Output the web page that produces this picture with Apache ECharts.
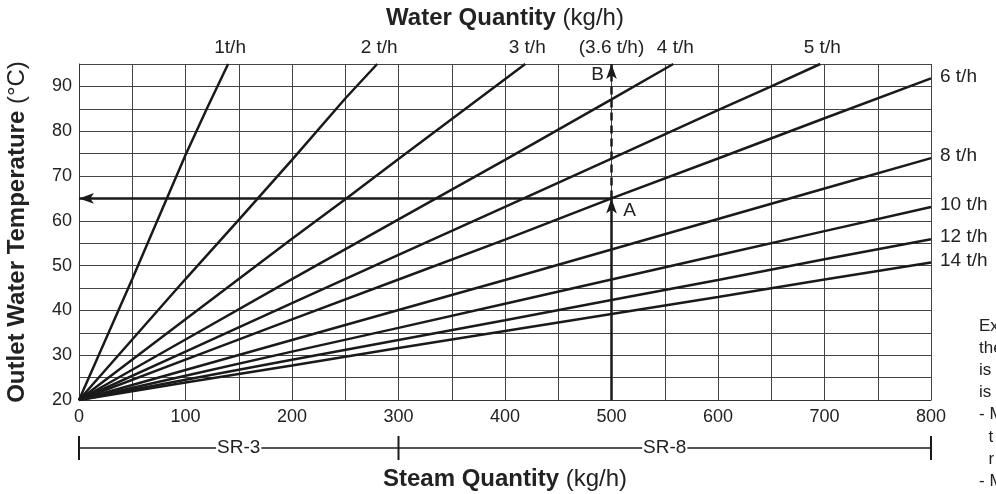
<!DOCTYPE html>
<html><head><meta charset="utf-8">
<script src="https://cdn.jsdelivr.net/npm/echarts@6/dist/echarts.min.js"></script>
<style>html,body{margin:0;padding:0;background:#fff}#c{width:996px;height:494px}</style>
</head><body><div id="c"></div>
<script>
// ---- data ----
const seriesNames = ['1t/h', '2 t/h', '3 t/h', '4 t/h', '5 t/h', '6 t/h', '8 t/h', '10 t/h', '12 t/h', '14 t/h'];
const line1t  = [[0,20],[50,47],[100,74.7],[120,85],[140,95]];
const line2t  = [[0,20],[100,47],[150,60.2],[200,73.6],[250,87.3],[280,95]];
const line3t  = [[0,20],[100,38],[200,56],[251,65],[300,73.8],[419,95]];
const line4t  = [[0,20],[100,33.5],[200,47],[300,60.3],[400,73.6],[500,87.1],[558,95]];
const line5t  = [[0,20],[100,30.8],[200,41.6],[300,52.4],[400,63.1],[500,73.9],[600,84.7],[650,90],[696,95]];
const line6t  = [[0,20],[100,29],[200,38],[300,46.9],[400,55.8],[500,65],[600,73.9],[700,82.9],[800,91.8]];
const line8t  = [[0,20],[100,26.7],[200,33.4],[300,40.1],[400,46.8],[500,53.6],[600,60.4],[700,67.2],[800,74]];
const line10t = [[0,20],[100,25.4],[200,30.8],[300,36.1],[400,41.5],[500,46.9],[600,52.3],[700,57.7],[800,63.1]];
const line12t = [[0,20],[100,24.5],[200,29],[300,33.4],[400,37.8],[500,42.3],[600,46.8],[700,51.4],[800,55.9]];
const line14t = [[0,20],[100,23.9],[200,27.7],[300,31.6],[400,35.4],[500,39.2],[600,43],[700,46.9],[800,50.7]];
const seriesData = [line1t, line2t, line3t, line4t, line5t, line6t, line8t, line10t, line12t, line14t];
const xLabelTicks = [0, 100, 200, 300, 400, 500, 600, 700, 800];
const yLabelTicks = [20, 30, 40, 50, 60, 70, 80, 90];
const examplePoint = [500, 65];   // point A
const exampleTop = [500, 95];     // point B
const exampleLabel = '(3.6 t/h)';
const modelNames = ['SR-3', 'SR-8'];
const modelBounds = [0, 300, 800];
const noteLines = ['Ex', 'the', 'is', 'is', '- M', '  t', '  r', '- M'];

const FONT = "'Liberation Sans', Arial, Helvetica, sans-serif";
const INK = '#1a1a1a';

const chart = echarts.init(document.getElementById('c'), null, {renderer: 'canvas'});

const series = seriesNames.map((n, i) => ({
  name: n, type: 'line', data: seriesData[i], symbol: 'none', showSymbol: false,
  lineStyle: {color: INK, width: 2.5}, clip: true, z: 3, silent: true
}));

series.push({
  type: 'line', data: [examplePoint], symbol: 'none', showSymbol: false,
  lineStyle: {width: 0}, silent: true, z: 4,
  markLine: {
    silent: true, animation: false, label: {show: false},
    data: [
      [{coord: examplePoint, symbol: 'none'}, {coord: [0, examplePoint[1]], symbol: 'arrow', symbolSize: [8, 15]}],
      [{coord: [examplePoint[0], 20], symbol: 'none'}, {coord: examplePoint, symbol: 'arrow', symbolSize: [8, 15]}],
      [{coord: examplePoint, symbol: 'none', lineStyle: {type: [8, 5]}}, {coord: exampleTop, symbol: 'arrow', symbolSize: [8, 15]}]
    ],
    lineStyle: {color: INK, width: 2.5, type: 'solid'}
  }
});

const option = {
  animation: false,
  backgroundColor: '#fff',
  grid: {left: 79, top: 64, width: 852, height: 336, containLabel: false, outerBoundsMode: 'none'},
  xAxis: {
    type: 'value', min: 0, max: 800, interval: 50,
    axisLine: {show: true, lineStyle: {color: '#333', width: 1}},
    axisTick: {show: false},
    splitLine: {show: true, lineStyle: {color: '#444', width: 1}},
    axisLabel: {formatter: v => xLabelTicks.includes(v) ? String(v) : '', fontSize: 18, color: '#222', margin: 8, fontFamily: FONT},
    name: '{b|Steam Quantity} (kg/h)', nameLocation: 'middle', nameGap: 67,
    nameTextStyle: {fontSize: 24, color: '#222', fontFamily: FONT,
      rich: {b: {fontSize: 24, fontWeight: 'bold', color: '#222', fontFamily: FONT}}}
  },
  yAxis: {
    type: 'value', min: 20, max: 95, interval: 5,
    axisLine: {show: true, lineStyle: {color: '#333', width: 1}},
    axisTick: {show: false},
    splitLine: {show: true, lineStyle: {color: '#444', width: 1}},
    axisLabel: {formatter: v => yLabelTicks.includes(v) ? String(v) : '', fontSize: 18, color: '#222', margin: 7, fontFamily: FONT},
    name: '{b|Outlet Water Temperature} (°C)', nameLocation: 'middle', nameGap: 50, nameRotate: 90,
    nameTextStyle: {fontSize: 24, color: '#222', fontFamily: FONT,
      rich: {b: {fontSize: 24, fontWeight: 'bold', color: '#222', fontFamily: FONT}}}
  },
  series: series
};
chart.setOption(option);

// ---- annotations positioned through the chart's own scales ----
const px = p => chart.convertToPixel({gridIndex: 0}, p);
const g = [];
const txt = (x, y, text, opt) => g.push(Object.assign({
  type: 'text', x: x, y: y, silent: true,
  style: Object.assign({text: text, fontSize: 19, fontFamily: FONT, fill: '#222', textAlign: 'center', textVerticalAlign: 'middle'}, opt || {})
}));

// top title
const cTop = px([400, 95]);
g.push({type: 'text', x: cTop[0], y: 18, silent: true,
  style: {text: '{b|Water Quantity} (kg/h)', fontSize: 24, fontFamily: FONT, fill: '#222', textAlign: 'center', textVerticalAlign: 'middle',
    rich: {b: {fontSize: 24, fontWeight: 'bold', fontFamily: FONT, fill: '#222'}}}});

// series labels
seriesData.forEach((d, i) => {
  const last = d[d.length - 1];
  const p = px(last);
  if (last[1] >= 95) {
    txt(p[0] + 2, 48, seriesNames[i]);
  } else {
    txt(p[0] + 9, p[1] - 2, seriesNames[i], {textAlign: 'left'});
  }
});
const pTop = px(exampleTop);
txt(pTop[0], 48, exampleLabel);

// A / B
const pA = px(examplePoint);
txt(pA[0] + 18, pA[1] + 12, 'A');
txt(pTop[0] - 14, pTop[1] + 11, 'B');

// SR bar
const yBar = 448;
const b0 = px([modelBounds[0], 20])[0], b1 = px([modelBounds[1], 20])[0], b2 = px([modelBounds[2], 20])[0];
g.push({type: 'line', silent: true, shape: {x1: b0, y1: yBar, x2: b2, y2: yBar}, style: {stroke: INK, lineWidth: 1.5}});
[b0, b1, b2].forEach(x => g.push({type: 'line', silent: true, shape: {x1: x, y1: yBar - 12, x2: x, y2: yBar + 12}, style: {stroke: INK, lineWidth: 2}}));
txt((b0 + b1) / 2, yBar, modelNames[0], {fontSize: 19, backgroundColor: '#fff', padding: [0, 1]});
txt((b1 + b2) / 2, yBar, modelNames[1], {fontSize: 19, backgroundColor: '#fff', padding: [0, 1]});

// cut-off note on the right
noteLines.forEach((t, i) => txt(979, 326 + i * 22.2, t, {fontSize: 17, textAlign: 'left'}));

chart.setOption({graphic: g});
</script></body></html>
